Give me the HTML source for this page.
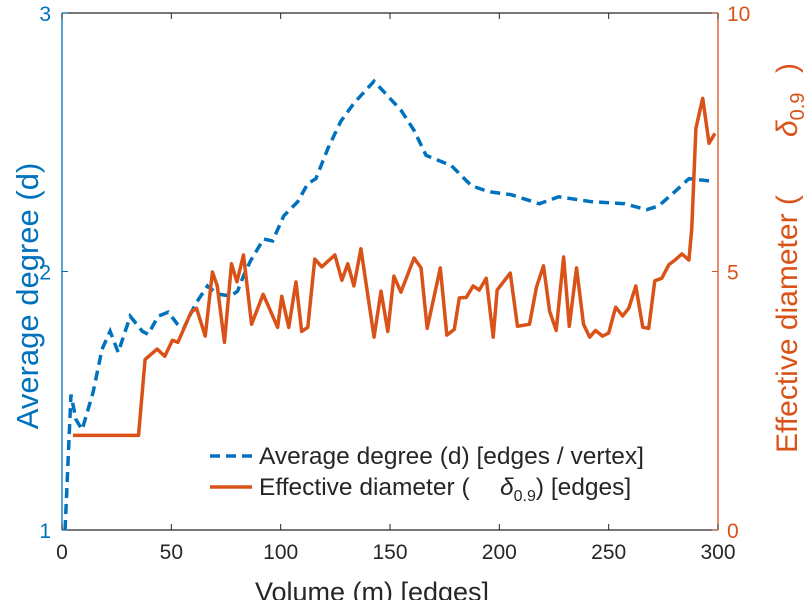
<!DOCTYPE html>
<html><head><meta charset="utf-8"><style>
html,body{margin:0;padding:0;background:#fff;}
svg{display:block;font-family:"Liberation Sans",sans-serif;}
</style></head><body>
<svg id="chart" width="812" height="600" viewBox="0 0 812 600">
<g id="grid"></g>
<g id="series"></g>
<g id="axes"></g>
<g id="legend">
  <line x1="210" y1="456" x2="252" y2="456" stroke="#0072BD" stroke-width="3.5" stroke-dasharray="10,6"/>
  <text x="259" y="464" font-size="24.5" fill="#262626">Average degree (d) [edges / vertex]</text>
  <line x1="210" y1="487" x2="252" y2="487" stroke="#D95319" stroke-width="3.5"/>
  <text x="259" y="495" font-size="24.5" fill="#262626">Effective diameter (<tspan x="500" font-style="italic">δ</tspan><tspan font-size="16" dy="6">0.9</tspan><tspan dy="-6">) [edges]</tspan></text>
</g>
</svg>
<script>
const xDeg = [1.4,4.1,6.4,9.2,14.2,18.3,22.0,25.7,31.2,36.7,39.4,44.0,48.6,52.8,55.5,61.0,66.5,71.1,77.1,80.3,83.0,86.2,92.2,96.3,101.4,107.8,112.4,116.1,121.6,127.5,133.5,142.7,149.1,155.0,161.0,166.5,178.0,187.2,195.0,205.5,218.3,227.1,242.2,257.3,267.4,272.9,280.3,286.7,298.6];
const avgDegree = [1.00,1.524,1.427,1.388,1.532,1.699,1.769,1.687,1.827,1.769,1.757,1.827,1.843,1.796,1.777,1.874,1.944,1.913,1.905,1.924,1.983,2.041,2.126,2.118,2.215,2.270,2.340,2.359,2.476,2.581,2.651,2.736,2.678,2.624,2.546,2.449,2.410,2.332,2.309,2.297,2.262,2.289,2.270,2.262,2.239,2.254,2.309,2.359,2.348];
const xDiam = [5,35,38,43.5,47,50.5,53,59,61.5,65.5,68.8,71,74.3,77.5,80,83,86.7,92,98.6,100.5,103.7,107,109.6,112.4,115.6,118.8,124.8,128,130.7,133.5,136.7,142.7,145.9,149,151.8,155,161,164.2,167,173,176,179.4,181.7,184.9,188,190.8,194,197.2,199,205,208.3,213.8,217,220.2,223,226,229.4,232,235.3,238.5,241.3,244,247.2,250,253.2,256.4,259.2,262.4,265.6,268.3,271.1,274.3,277.5,280.3,283.5,286.7,288,289.9,293,295.9,298.6];
const effDiameter = [1.83,1.83,3.30,3.50,3.36,3.67,3.63,4.21,4.29,3.75,4.99,4.72,3.63,5.15,4.80,5.32,3.98,4.56,3.92,4.52,3.92,4.80,3.84,3.92,5.24,5.09,5.32,4.83,5.15,4.72,5.44,3.73,4.62,3.84,4.91,4.60,5.26,5.07,3.90,5.07,3.77,3.88,4.49,4.50,4.72,4.64,4.87,3.73,4.64,4.97,3.94,3.98,4.70,5.11,4.23,3.86,5.28,3.94,5.07,3.98,3.73,3.86,3.75,3.81,4.31,4.14,4.29,4.72,3.92,3.90,4.82,4.87,5.13,5.22,5.34,5.22,5.83,7.77,8.35,7.48,7.67];
const xTicks = [0,50,100,150,200,250,300];
const yLeftTicks = [1,2,3];
const yRightTicks = [0,5,10];

const L=62,R=718,T=13,B=530;
const sx=v=>L+(v-0)/300*(R-L);
const syL=v=>B-(v-1)/2*(B-T);
const syR=v=>B-v/10*(B-T);
const NS='http://www.w3.org/2000/svg';
function mk(tag,attrs,parent){const e=document.createElementNS(NS,tag);for(const k in attrs)e.setAttribute(k,attrs[k]);parent.appendChild(e);return e;}
const series=document.getElementById('series'), axes=document.getElementById('axes');

let p1=mk('polyline',{points:xDeg.map((x,i)=>sx(x)+','+syL(avgDegree[i])).join(' '),fill:'none',stroke:'#0072BD','stroke-width':3.5,'stroke-dasharray':'10,6'},series);


let p2=mk('polyline',{points:xDiam.map((x,i)=>sx(x)+','+syR(effDiameter[i])).join(' '),fill:'none',stroke:'#D95319','stroke-width':3.5,'stroke-linejoin':'round'},series);



let a=mk('line',{x1:L,y1:B,x2:R,y2:B,stroke:'#262626','stroke-width':1.3},axes);


a=mk('line',{x1:L,y1:T,x2:R,y2:T,stroke:'#262626','stroke-width':1.3},axes);


a=mk('line',{x1:L,y1:T,x2:L,y2:B,stroke:'#0072BD','stroke-width':1.3},axes);


a=mk('line',{x1:R,y1:T,x2:R,y2:B,stroke:'#D95319','stroke-width':1.3},axes);



xTicks.forEach(v=>{
  let t=mk('line',{x1:sx(v),y1:B,x2:sx(v),y2:B-6,stroke:'#262626'},axes);
  
  
  t=mk('line',{x1:sx(v),y1:T,x2:sx(v),y2:T+6,stroke:'#262626'},axes);
  
  
  let l=mk('text',{x:sx(v),y:559,'font-size':21,fill:'#262626','text-anchor':'middle'},axes);
  l.textContent=v;
  
  
});
yLeftTicks.forEach(v=>{
  let t=mk('line',{x1:L,y1:syL(v),x2:L+6,y2:syL(v),stroke:'#0072BD'},axes);
  
  
  let l=mk('text',{x:51,y:syL(v)+8,'font-size':21,fill:'#0072BD','text-anchor':'end'},axes);
  l.textContent=v;
  
  
});
yRightTicks.forEach(v=>{
  let t=mk('line',{x1:R,y1:syR(v),x2:R-6,y2:syR(v),stroke:'#D95319'},axes);
  
  
  let l=mk('text',{x:727,y:syR(v)+8,'font-size':21,fill:'#D95319','text-anchor':'start'},axes);
  l.textContent=v;
  
  
});
let xt=mk('text',{x:372,y:601,'font-size':27,fill:'#262626','text-anchor':'middle'},axes);
xt.textContent='Volume (m) [edges]';


let yl=mk('text',{x:0,y:0,'font-size':31,fill:'#0072BD','text-anchor':'middle',transform:'translate(38,296) rotate(-90)'},axes);
yl.textContent='Average degree (d)';


let yr=mk('text',{x:0,y:0,'font-size':30,fill:'#D95319','text-anchor':'start',transform:'translate(797,453) rotate(-90)'},axes);
yr.innerHTML='Effective diameter (<tspan x="316" font-style="italic">δ</tspan><tspan font-size="20" dy="7">0.9</tspan><tspan x="380" dy="-7">)</tspan>';


</script>
</body></html>
